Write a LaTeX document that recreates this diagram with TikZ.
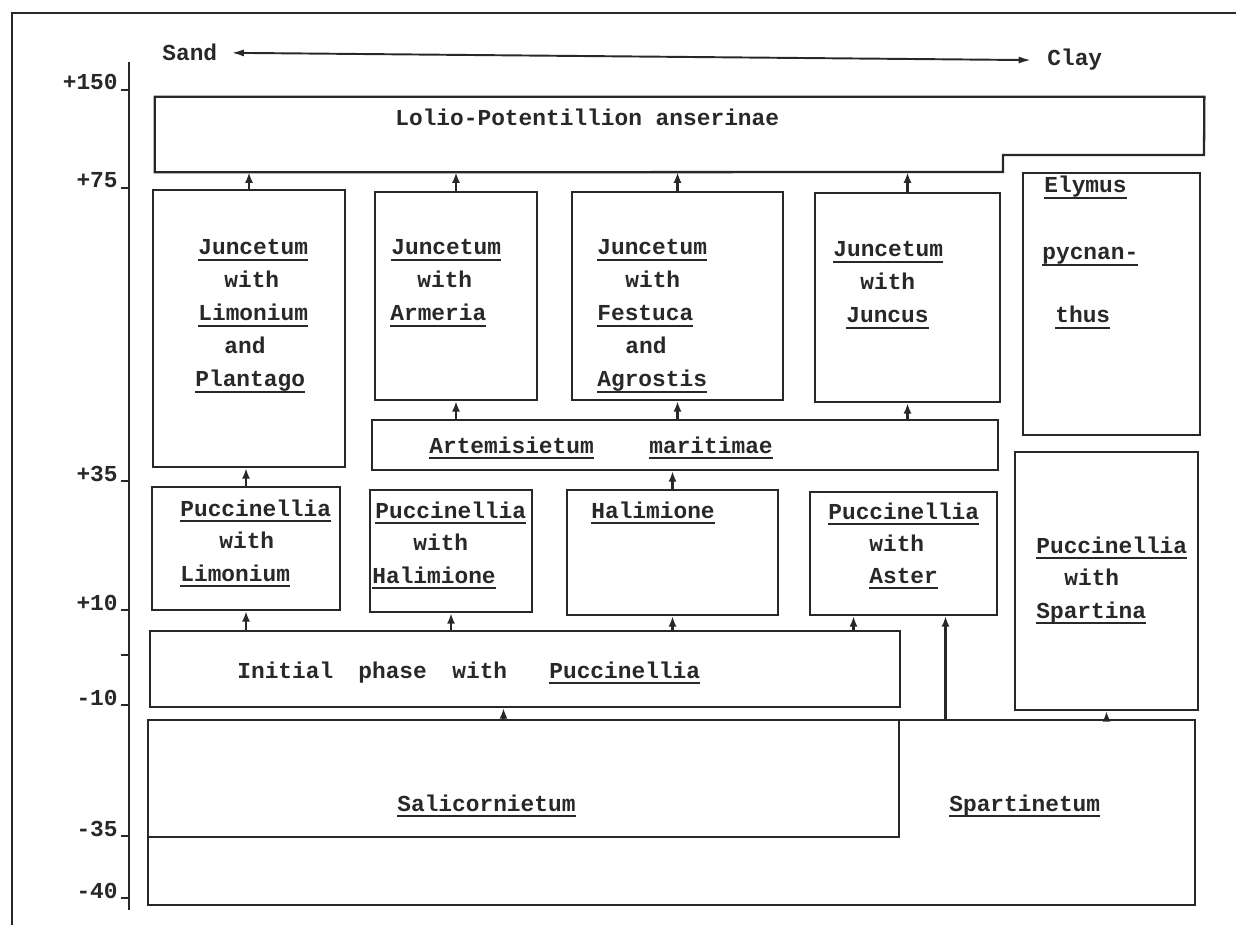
\documentclass[tikz,border=0pt]{standalone}
\usepackage{fontspec}
\setmonofont{Liberation Mono}
\usetikzlibrary{arrows.meta,fit,calc}

\definecolor{ink}{RGB}{40,40,40}
\newsavebox\taxonbox
\newcommand{\taxon}[1]{\sbox\taxonbox{#1}\rlap{\rule[-3.6pt]{\wd\taxonbox}{1.1pt}}\usebox\taxonbox}

\tikzset{
  box/.style={draw=ink, line width=1.3pt, inner sep=0pt},
  lbl/.style={text=ink, font=\ttfamily\bfseries\fontsize{13}{15}\selectfont, inner sep=0pt, anchor=base west},
  up/.style={draw=ink, line width=1.3pt, -{Latex[length=6pt,width=4.6pt]}},
}

\begin{document}
\begin{tikzpicture}[x=0.02cm, y=-0.02cm]
    \useasboundingbox (0,0) rectangle (1236,925);

    % Frame
    \draw[ink, line width=1.1pt] (12,925) -- (12,13) -- (1236,13);

    % Sand - Clay
    \node[lbl] (sand) at (162,61) {Sand};
    \node[lbl] (clay) at (1047,66) {Clay};
    \draw[ink, line width=1.1pt, {Latex[length=7pt,width=4pt]}-{Latex[length=7pt,width=4pt]}]
        ($(sand.east)+(14,0)$) -- ($(clay.west)+(-16,0)$);

    % Height axis
    \draw[ink, line width=1.3pt] (129,62) -- (129,910);
    \foreach \v/\y in {+150/90, +75/188, +35/481, +10/610, -10/705, -35/836, -40/898} {
        \draw[ink, line width=1.3pt] (121,\y) -- (129,\y);
        \node[lbl, anchor=base east] (tick\y) at (118,\y) {\v};
    }
    \draw[ink, line width=1.3pt] (121,655) -- (129,655);

    % Top
    \node[inner sep=0pt, fit={(155,97) (1204,172)}] (lolio) {};
    \draw[ink, line width=1.3pt] (lolio.north west) -- (lolio.north east) -- (1204,155)
        -- (1003,155) -- (1003,172) -- (lolio.south west) -- cycle;
    \node[lbl] (lolio1) at (395,126) {Lolio-Potentillion anserinae};

    % Juncetum boxes
    \node[box, fit={(153,190) (345,467)}] (jlp) {};
    \node[lbl] (jlp1) at (198,255) {\taxon{Juncetum}};
    \node[lbl] (jlp2) at (224,288) {with};
    \node[lbl] (jlp3) at (198,321) {\taxon{Limonium}};
    \node[lbl] (jlp4) at (224,354) {and};
    \node[lbl] (jlp5) at (195,387) {\taxon{Plantago}};

    \node[box, fit={(375,192) (537,400)}] (jarm) {};
    \node[lbl] (jarm1) at (391,255) {\taxon{Juncetum}};
    \node[lbl] (jarm2) at (417,288) {with};
    \node[lbl] (jarm3) at (390,321) {\taxon{Armeria}};

    \node[box, fit={(572,192) (783,400)}] (jfes) {};
    \node[lbl] (jfes1) at (597,255) {\taxon{Juncetum}};
    \node[lbl] (jfes2) at (625,288) {with};
    \node[lbl] (jfes3) at (597,321) {\taxon{Festuca}};
    \node[lbl] (jfes4) at (625,354) {and};
    \node[lbl] (jfes5) at (597,387) {\taxon{Agrostis}};

    \node[box, fit={(815,193) (1000,402)}] (jjun) {};
    \node[lbl] (jjun1) at (833,257) {\taxon{Juncetum}};
    \node[lbl] (jjun2) at (860,290) {with};
    \node[lbl] (jjun3) at (846,323) {\taxon{Juncus}};

    \node[box, fit={(1023,173) (1200,435)}] (ely) {};
    \node[lbl] (ely1) at (1044,193) {\taxon{Elymus}};
    \node[lbl] (ely2) at (1042,260) {\taxon{pycnan-}};
    \node[lbl] (ely3) at (1055,323) {\taxon{thus}};

    \node[box, fit={(372,420) (998,470)}] (art) {};
    \node[lbl] (art1) at (429,453) {\taxon{Artemisietum}};
    \node[lbl] (art2) at (649,453) {\taxon{maritimae}};

    % Puccinellia boxes
    \node[box, fit={(152,487) (340,610)}] (plim) {};
    \node[lbl] (plim1) at (180,516) {\taxon{Puccinellia}};
    \node[lbl] (plim2) at (219,548) {with};
    \node[lbl] (plim3) at (180,581) {\taxon{Limonium}};

    \node[box, fit={(370,490) (532,612)}] (phal) {};
    \node[lbl] (phal1) at (375,518) {\taxon{Puccinellia}};
    \node[lbl] (phal2) at (413,550) {with};
    \node[lbl] (phal3) at (372,583) {\taxon{Halimione}};

    \node[box, fit={(567,490) (778,615)}] (hal) {};
    \node[lbl] (hal1) at (591,518) {\taxon{Halimione}};

    \node[box, fit={(810,492) (997,615)}] (past) {};
    \node[lbl] (past1) at (828,519) {\taxon{Puccinellia}};
    \node[lbl] (past2) at (869,551) {with};
    \node[lbl] (past3) at (869,583) {\taxon{Aster}};

    \node[box, fit={(1015,452) (1198,710)}] (pspa) {};
    \node[lbl] (pspa1) at (1036,553) {\taxon{Puccinellia}};
    \node[lbl] (pspa2) at (1064,585) {with};
    \node[lbl] (pspa3) at (1036,618) {\taxon{Spartina}};

    % Pioneer stages
    \node[box, fit={(150,631) (900,707)}] (init) {};
    \node[lbl] (init1) at (237,678) {Initial};
    \node[lbl] (init2) at (358,678) {phase};
    \node[lbl] (init3) at (452,678) {with};
    \node[lbl] (init4) at (549,678) {\taxon{Puccinellia}};

    \node[box, fit={(148,720) (1195,905)}] (spa) {};
    \node[box, fit={(148,720) (899,837)}] (sal) {};
    \node[lbl] (sal1) at (397,811) {\taxon{Salicornietum}};
    \node[lbl] (spa1) at (949,811) {\taxon{Spartinetum}};

    % Succession arrows
    \coordinate (astL) at ($(past.south)+(-50,0)$);
    \coordinate (astR) at ($(past.south)+(42,0)$);
    \coordinate (salN) at ($(sal.north)+(-20,0)$);
    \draw[up] (jlp.north) -- (jlp.north |- lolio.south);
    \draw[up] (jarm.north) -- (jarm.north |- lolio.south);
    \draw[up] (jfes.north) -- (jfes.north |- lolio.south);
    \draw[up] (jjun.north) -- (jjun.north |- lolio.south);
    \draw[up] (art.north -| jarm.south) -- (jarm.south);
    \draw[up] (art.north -| jfes.south) -- (jfes.south);
    \draw[up] (art.north -| jjun.south) -- (jjun.south);
    \draw[up] (plim.north) -- (plim.north |- jlp.south);
    \draw[up] (hal.north) -- (hal.north |- art.south);
    \draw[up] (init.north -| plim.south) -- (plim.south);
    \draw[up] (init.north -| phal.south) -- (phal.south);
    \draw[up] (init.north -| hal.south) -- (hal.south);
    \draw[up] (astL |- init.north) -- (astL);
    \draw[up] (astR |- spa.north) -- (astR);
    \draw[up] (salN) -- (salN |- init.south);
    \draw[up] (spa.north -| pspa.south) -- (pspa.south);
\end{tikzpicture}
\end{document}
